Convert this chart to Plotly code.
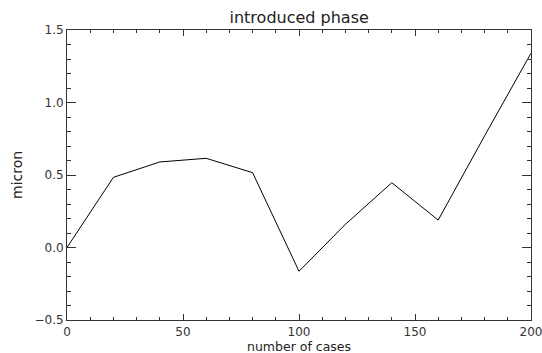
import plotly.graph_objects as go

cases = [0, 20, 40, 60, 80, 100, 120, 140, 160, 180, 200]
micron = [0.0, 0.484, 0.59, 0.615, 0.516, -0.164, 0.16, 0.447, 0.189, 0.77, 1.34]

title_text = "introduced phase"
x_title = "number of cases"
y_title = "micron"

fig = go.Figure()
fig.add_trace(go.Scatter(x=cases, y=micron, mode="lines",
                         line=dict(color="black", width=1)))

font = dict(family="DejaVu Sans", size=12, color="#222222")

fig.update_layout(
    width=542, height=353,
    margin=dict(l=67, r=11, t=30, b=33, autoexpand=False),
    plot_bgcolor="white", paper_bgcolor="white",
    showlegend=False,
    font=font,
    title=dict(text=title_text, x=0.552, xanchor="center", y=0.952, yanchor="middle",
               font=dict(family="DejaVu Sans", size=16, color="#222222")),
)
fig.update_xaxes(
    range=[0, 200], tickvals=[0, 50, 100, 150, 200],
    ticktext=["0", "50", "100", "150", "200"],
    ticks="inside", ticklen=6, tickcolor="#333333", tickwidth=1,
    minor=dict(dtick=10, ticks="inside", ticklen=3, tickcolor="#333333", tickwidth=1, showgrid=False),
    showline=True, linecolor="#333333", linewidth=1, mirror="ticks",
    showgrid=False, zeroline=False, automargin=False,
    ticklabeloverflow="allow", ticklabelstandoff=1,
    tickfont=dict(family="DejaVu Sans", size=12, color="#333333"),
)
fig.update_yaxes(
    range=[-0.5, 1.5], tickvals=[-0.5, 0, 0.5, 1.0, 1.5],
    ticktext=["−0.5", "0.0", "0.5", "1.0", "1.5"],
    ticks="inside", ticklen=9, tickcolor="#333333", tickwidth=1,
    minor=dict(dtick=0.1, ticks="inside", ticklen=4, tickcolor="#333333", tickwidth=1, showgrid=False),
    showline=True, linecolor="#333333", linewidth=1, mirror="ticks",
    showgrid=False, zeroline=False, automargin=False,
    ticklabeloverflow="allow",
    tickfont=dict(family="DejaVu Sans", size=12, color="#333333"),
)
fig.add_annotation(text=x_title, xref="paper", yref="paper", x=0.5, y=0,
                   xanchor="center", yanchor="top", yshift=-18, showarrow=False,
                   borderpad=0,
                   font=dict(family="DejaVu Sans", size=12.5, color="#222222"))
fig.add_annotation(text=y_title, xref="paper", yref="paper", x=0, y=0.5,
                   xanchor="center", yanchor="middle", xshift=-50, textangle=-90,
                   showarrow=False,
                   font=dict(family="DejaVu Sans", size=14, color="#222222"))

fig.write_html("out.html")
